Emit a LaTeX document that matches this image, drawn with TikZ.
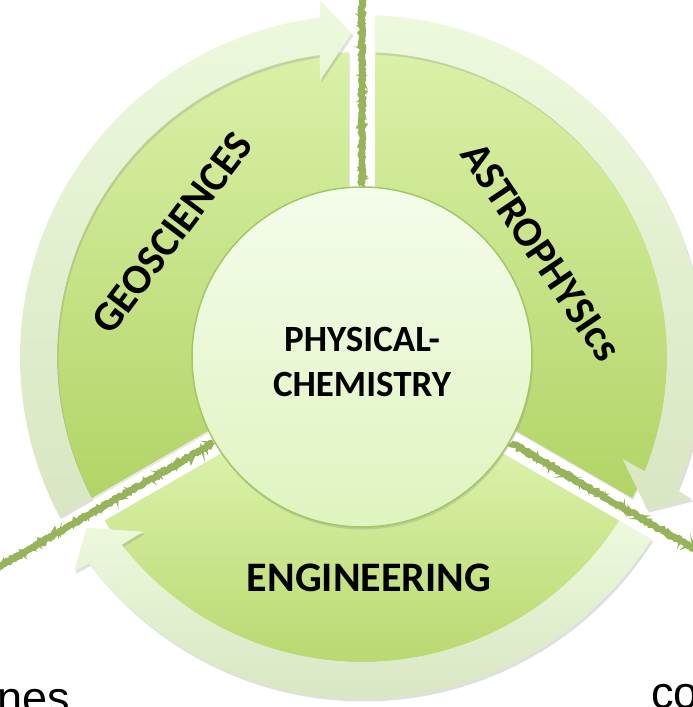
\documentclass[tikz,border=0pt]{standalone}
\usepackage{fontspec}
\setmainfont{Carlito}
\newfontfamily\thinfont{Liberation Sans}
\usetikzlibrary{shadows,decorations.pathmorphing}
\definecolor{greentop}{HTML}{DAF1A8}
\definecolor{greenbot}{HTML}{B2D466}
\definecolor{bandtop}{HTML}{EDF9DC}
\definecolor{bandbot}{HTML}{D8E6C3}
\definecolor{coretop}{HTML}{F4FCEB}
\definecolor{corebot}{HTML}{DFF4BF}
\definecolor{coreline}{HTML}{A3C765}
\definecolor{chalkgreen}{HTML}{97B45B}

\begin{document}
\begin{tikzpicture}[x=1pt,y=1pt,
    sector/.style={top color=greentop,bottom color=greenbot,
                   drop shadow={opacity=.18,shadow xshift=1pt,shadow yshift=-2pt}},
    band/.style={top color=bandtop,bottom color=bandbot,
                 drop shadow={opacity=.25,shadow xshift=1.5pt,shadow yshift=-2.5pt}},
    chalk/.style={draw=chalkgreen,line width=6.5pt,decorate,
                  decoration={random steps,segment length=2pt,amplitude=1.1pt}},
    chalk edge/.style={draw=chalkgreen,line width=2.5pt,decorate,
                  decoration={random steps,segment length=1.5pt,amplitude=2.6pt}},
    core/.style={circle,minimum size=340pt,draw=coreline,line width=1.5pt,
                 top color=coretop,bottom color=corebot,
                 drop shadow={opacity=.25,shadow xshift=1pt,shadow yshift=-2.5pt}},
    field/.style={font=\fontsize{42pt}{50pt}\selectfont\bfseries,inner sep=0pt},
    corelabel/.style={font=\fontsize{37pt}{45pt}\selectfont\bfseries,align=center,inner sep=0pt},
    thin/.style={font=\thinfont\fontsize{45pt}{54pt}\selectfont,inner sep=0pt}]

  \useasboundingbox (-362,-350) rectangle (331,357);

  % three sectors, each with its arrow band ending clockwise at \ang
  \foreach \ang in {90,-30,210} {
    \path[sector] ({\ang+asin(13/305)}:305)
      arc[start angle={\ang+asin(13/305)},end angle={\ang+120-asin(13/305)},radius=305]
      -- ({\ang+120-asin(13/170)}:170)
      arc[start angle={\ang+120-asin(13/170)},end angle={\ang+asin(13/170)},radius=170]
      -- cycle;
    \path[band] ({\ang+120-asin(13/342)}:342)
      arc[start angle={\ang+120-asin(13/342)},end angle={\ang+7.1},radius=342]
      -- ({\ang+6.7}:359) -- ({\ang+1.8}:324) -- ({\ang+8.6}:280) -- ({\ang+8}:305)
      arc[start angle={\ang+8},end angle={\ang+120-asin(13/305)},radius=305]
      -- cycle;
  }

  % chalk separators
  \foreach \ang in {90,-30,210} {
    \coordinate (rim\ang) at (\ang:172);
    \coordinate (out\ang) at (\ang:560);
    \draw[chalk] (rim\ang) -- (out\ang);
    \draw[chalk edge] (rim\ang) -- (out\ang);
  }

  \node[core] (core) at (0,0) {};
  \node[corelabel] (chem) at (0,-4.5) {PHYSICAL-\\CHEMISTRY};

  \node[field,rotate=53] (geo) at (-190,124) {GEOSCIENCES};
  \node[field,rotate=-56] (astro) at (179,105) {ASTROPHYSIcs};
  \node[field] (eng) at (7,-221) {ENGINEERING};

  \node[thin,anchor=base east] (nes) at (-292,-356) {nes};
  \node[thin,anchor=base west] (co) at (289,-351) {co};
\end{tikzpicture}
\end{document}
